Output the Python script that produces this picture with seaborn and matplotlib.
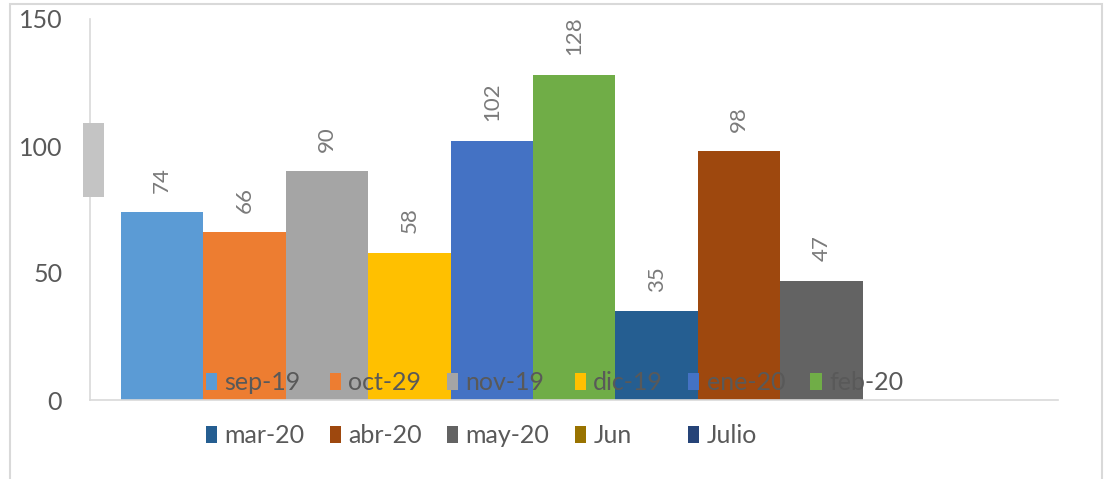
import numpy as np
import pandas as pd
import matplotlib
matplotlib.use("Agg")
import matplotlib.pyplot as plt
from matplotlib.patches import Patch, Rectangle
import seaborn as sns

# Meses (orden de las series) y valores
months = ["sep-19", "oct-29", "nov-19", "dic-19", "ene-20", "feb-20",
          "mar-20", "abr-20", "may-20", "Jun", "Julio"]
values = [74, 66, 90, 58, 102, 128, 35, 98, 47, np.nan, np.nan]
colors = ["#5B9BD5", "#ED7D31", "#A5A5A5", "#FFC000", "#4472C4", "#70AD47",
          "#255E91", "#9E480E", "#636363", "#997300", "#264478"]

df = pd.DataFrame({"mes": months, "valor": values}).dropna()
palette = dict(zip(months, colors))

sns.set_style("white")
plt.rcParams["font.family"] = ["Lato", "DejaVu Sans"]

fig = plt.figure(figsize=(11.09, 4.79), dpi=100)
ax = fig.add_axes([90 / 1109, 79 / 479, 968 / 1109, 381 / 479])

sns.barplot(data=df, x="mes", y="valor", hue="mes", order=months,
            hue_order=months, palette=palette, dodge=False, width=1.0,
            linewidth=0, saturation=1, legend=False, ax=ax)

# Etiquetas de datos rotadas
for cont in ax.containers:
    labels = [f"{b.get_height():.0f}" if np.isfinite(b.get_height()) and b.get_height() > 0 else ""
              for b in cont]
    ax.bar_label(cont, labels=labels, rotation=90, padding=14,
                 fontsize=16, color="#7a7a7a")

ax.set_xlim(-0.876, 10.87)
ax.set_ylim(0, 150)
ax.set_yticks([0, 50, 100, 150])
ax.set_xticks([])
ax.set_xlabel("")
ax.set_ylabel("")
ax.tick_params(axis="y", length=0, pad=20, labelsize=18, labelcolor="#595959")
for s in ["top", "right"]:
    ax.spines[s].set_visible(False)
for s in ["left", "bottom"]:
    ax.spines[s].set_color("#d9d9d9")
    ax.spines[s].set_linewidth(1.2)

# Leyenda en dos filas (orden por columnas para matplotlib)
order = [0, 6, 1, 7, 2, 8, 3, 9, 4, 10, 5]
handles = [Patch(facecolor=colors[i], edgecolor="none", label=months[i]) for i in order]
leg = fig.legend(handles=handles, loc="center", bbox_to_anchor=(0.5, 0.146),
                 ncol=6, frameon=False, fontsize=18, labelcolor="#595959",
                 handlelength=0.45, handleheight=0.65, handletextpad=0.3,
                 columnspacing=1.0, labelspacing=1.2)

# Marco exterior y el rectangulo gris de la izquierda
fig.patches.append(Rectangle((10 / 1109, -0.05), 1092 / 1109, 1.05 - 4 / 479,
                             transform=fig.transFigure, fill=False,
                             edgecolor="#d9d9d9", linewidth=1.5))
fig.patches.append(Rectangle((83 / 1109, (479 - 197) / 479), 21 / 1109, 74 / 479,
                             transform=fig.transFigure, facecolor="#c4c4c4",
                             edgecolor="none", zorder=5))

fig.savefig("out.png", dpi=100)
